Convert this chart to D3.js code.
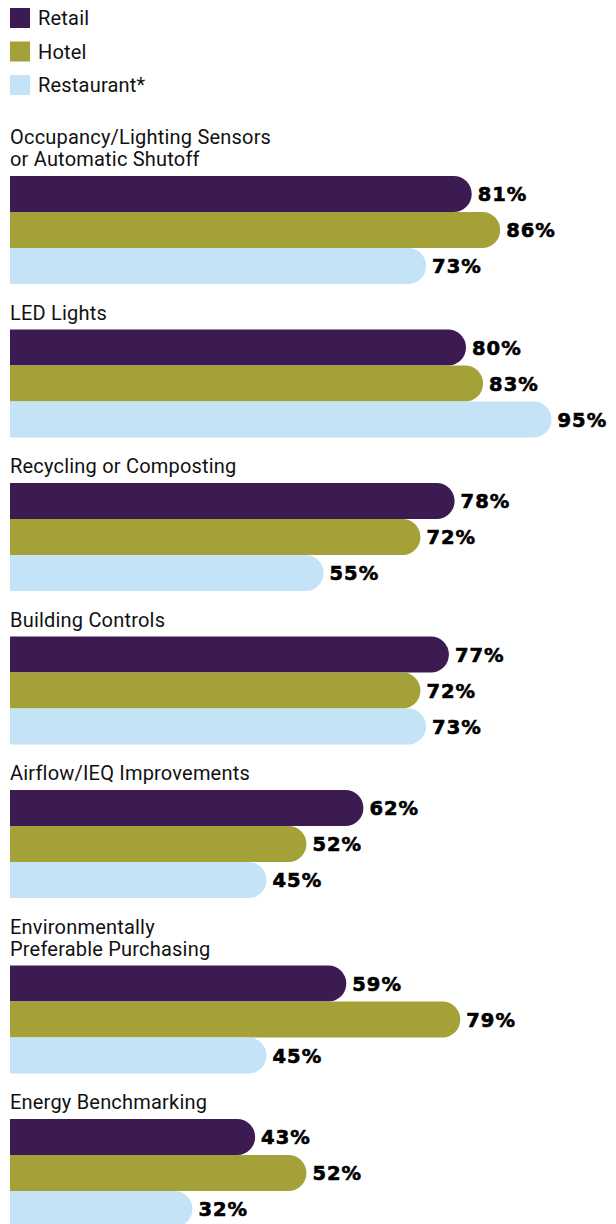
<!DOCTYPE html>
<html>
<head>
<meta charset="utf-8">
<script src="https://cdn.jsdelivr.net/npm/d3@7"></script>
<style>
  html, body { margin: 0; padding: 0; background: #fff; }
  svg { display: block; }
</style>
</head>
<body>
<script>
// Share of respondents adopting each sustainability practice, by sector
const categories = [
  ["Occupancy/Lighting Sensors", "or Automatic Shutoff"],
  ["LED Lights"],
  ["Recycling or Composting"],
  ["Building Controls"],
  ["Airflow/IEQ Improvements"],
  ["Environmentally", "Preferable Purchasing"],
  ["Energy Benchmarking"]
];
const seriesNames = ["Retail", "Hotel", "Restaurant*"];
const retail     = [81, 80, 78, 77, 62, 59, 43];
const hotel      = [86, 83, 72, 72, 52, 79, 52];
const restaurant = [73, 95, 55, 73, 45, 45, 32];
const seriesColors = ["#3c1a52", "#a3a137", "#c4e3f6"];

const W = 616, H = 1224;
const barH = 36, groupStep = 153.5, lineH = 22, firstBarTop = 176;
const labelFont = "Roboto, 'Liberation Sans', sans-serif";

const svg = d3.select("body").append("svg")
  .attr("width", W).attr("height", H);

// Legend
const legend = svg.append("g");
seriesNames.forEach((name, i) => {
  const y = 8 + i * 33.5;
  legend.append("rect").attr("x", 10).attr("y", y).attr("width", 20).attr("height", 20)
    .attr("fill", seriesColors[i]);
  legend.append("text").attr("x", 38).attr("y", y + 17)
    .attr("font-family", labelFont)
    .attr("font-size", 20).attr("letter-spacing", 0.2).attr("fill", "#111")
    .text(name);
});

// Horizontal value scale (percent of respondents)
const x = d3.scaleLinear().domain([0, 100]).range([10, 580]);

// Vertical placement of each group's block of bars
const groupTops = [];
let acc = firstBarTop;
categories.forEach((lines, i) => {
  if (i > 0) acc += groupStep + (lines.length - 1) * lineH;
  groupTops.push(acc);
});

const series = [retail, hotel, restaurant];

// Bar with square left end and fully rounded right end
function pillPath(x0, x1, y0, h) {
  const r = h / 2;
  const p = d3.path();
  const xr = Math.max(x0, x1 - r);
  p.moveTo(x0, y0);
  p.lineTo(xr, y0);
  p.arc(xr, y0 + r, r, -Math.PI / 2, Math.PI / 2);
  p.lineTo(x0, y0 + h);
  p.closePath();
  return p.toString();
}

categories.forEach((lines, gi) => {
  const top = groupTops[gi];
  const g = svg.append("g");
  // category label, one or two lines, sitting just above the bars
  lines.forEach((ln, li) => {
    g.append("text")
      .attr("x", 10)
      .attr("y", top - 10 - (lines.length - 1 - li) * lineH)
      .attr("font-family", labelFont)
      .attr("font-size", 20).attr("letter-spacing", 0.2).attr("fill", "#111")
      .text(ln);
  });
  series.forEach((vals, si) => {
    const v = vals[gi];
    const y0 = top + si * barH;
    g.append("path")
      .attr("d", pillPath(x(0), x(v), y0, barH))
      .attr("fill", seriesColors[si]);
    g.append("text")
      .attr("x", x(v) + 6)
      .attr("y", y0 + barH / 2 + 7)
      .attr("font-family", "'DejaVu Sans', sans-serif")
      .attr("font-weight", 900)
      .attr("font-size", 19.5)
      .attr("letter-spacing", 1)
      .attr("fill", "#000")
      .attr("stroke", "#000")
      .attr("stroke-width", 0.6)
      .text(v + "%");
  });
});
</script>
</body>
</html>
